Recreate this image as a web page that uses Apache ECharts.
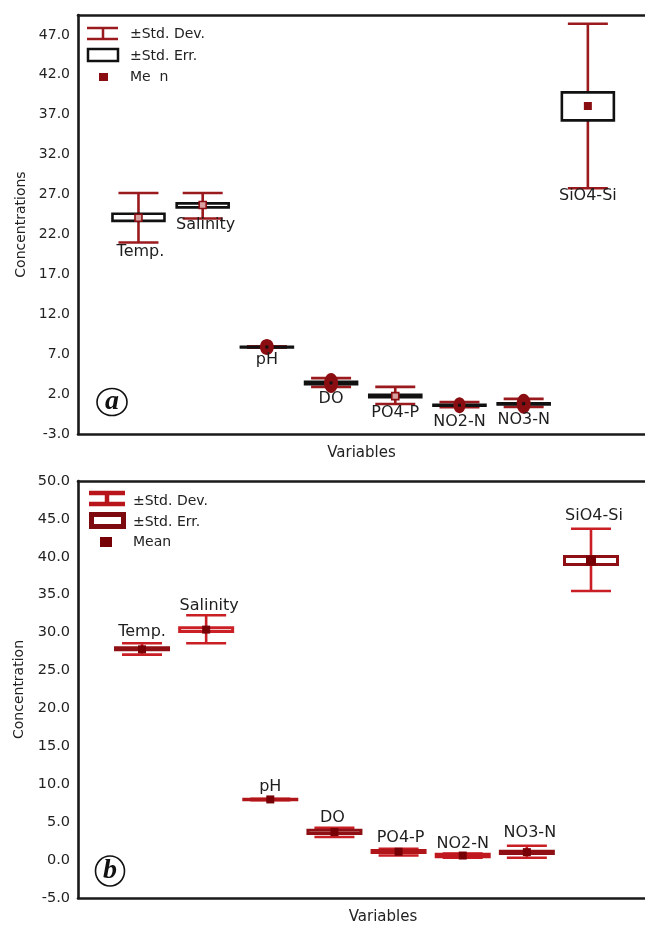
<!DOCTYPE html>
<html>
<head>
<meta charset="utf-8">
<script src="https://cdn.jsdelivr.net/npm/echarts@6/dist/echarts.min.js"></script>
<style>
html,body{margin:0;padding:0;background:#fff;overflow:hidden;}
#chart{width:645px;height:927px;}
</style>
</head>
<body>
<div id="chart"></div>
<script>
// ---- data ----
const categories = ['Temp.', 'Salinity', 'pH', 'DO', 'PO4-P', 'NO2-N', 'NO3-N', 'SiO4-Si'];

// panel (a)
const meanA   = [24.1, 25.7, 7.9, 3.4, 1.75, 0.6, 0.8, 38.1];
const sdHighA = [27.2, 27.2, 8.0, 4.0, 2.9, 1.0, 1.4, 48.4];
const sdLowA  = [21.0, 24.0, 7.8, 2.9, 0.75, 0.35, 0.4, 27.8];
const seHighA = [24.6, 25.9, 7.92, 3.55, 1.9, 0.65, 0.85, 39.8];
const seLowA  = [23.7, 25.4, 7.88, 3.25, 1.6, 0.55, 0.7, 36.3];

// panel (b)
const meanB   = [27.8, 30.4, 8.0, 3.7, 1.1, 0.6, 1.05, 39.5];
const sdHighB = [28.6, 32.3, 8.1, 4.25, 1.5, 0.85, 1.9, 43.7];
const sdLowB  = [27.1, 28.6, 7.9, 3.05, 0.6, 0.3, 0.3, 35.5];
const seHighB = [28.0, 30.65, 8.03, 3.93, 1.28, 0.78, 1.15, 40.05];
const seLowB  = [27.75, 30.15, 7.97, 3.52, 1.0, 0.45, 0.88, 39.0];

// axis ticks
const yTicksA = { min: -3, max: 49.5, step: 5 };
const yTicksB = { min: -5, max: 50, step: 5 };

// ---- build ----
function rows(mean, lo, hi, seLo, seHi) {
  return categories.map((c, i) => [i + 1, mean[i], lo[i], hi[i], seLo[i], seHi[i]]);
}

const FONT = '"DejaVu Sans", "Liberation Sans", Arial, sans-serif';

const styleA = {
  whisker: '#9a1a1e', whiskerWidth: 2.6, capW: 40, boxW: 52,
  boxColors: ['#111','#111','#111','#111','#111','#111','#111','#111'], boxWidth: 2.6,
  meanKinds: ['hollow','hollow','dot','dot','hollow','dot','dot','filled'],
  meanColor: '#8a0d12',
  blobs: [null, null, [7, 8], [7, 10], null, [6, 8], [7, 10], null],
  labelBelow: true,
  labelDy: [9, 6, 12, 11.5, 9, 15, 12.5, 8],
  labelDx: [2, 3, 0, 0, 0, 0, 0, 0]
};
const styleB = {
  whisker: '#c81e24', whiskerWidth: 2.6, capW: 40, boxW: 53,
  boxColors: ['#8e1015','#cc2027','#b0151a','#8e1015','#b0151a','#c0181e','#8e1015','#8e1015'], boxWidth: 3,
  meanKinds: ['filled','filled','filled','filled','filled','filled','filled','filledBig'],
  meanColor: '#760006',
  blobs: [null, null, null, null, null, null, null, null],
  labelBelow: false,
  labelDy: [11, 9.5, 12, 10, 11, 10, 12.5, 12.5],
  labelDx: [0, 3, 0, -2, 2, 0, 3, 3]
};

function makeRender(cfg) {
  return function (params, api) {
    const i = params.dataIndex;
    const x = api.value(0);
    const pM = api.coord([x, api.value(1)]);
    const pLo = api.coord([x, api.value(2)]);
    const pHi = api.coord([x, api.value(3)]);
    const pSeLo = api.coord([x, api.value(4)]);
    const pSeHi = api.coord([x, api.value(5)]);
    const cx = pM[0];
    const ch = [];
    const ws = { stroke: cfg.whisker, lineWidth: cfg.whiskerWidth };
    ch.push({ type: 'line', shape: { x1: cx, y1: pHi[1], x2: cx, y2: pLo[1] }, style: ws });
    ch.push({ type: 'line', shape: { x1: cx - cfg.capW / 2, y1: pHi[1], x2: cx + cfg.capW / 2, y2: pHi[1] }, style: ws });
    ch.push({ type: 'line', shape: { x1: cx - cfg.capW / 2, y1: pLo[1], x2: cx + cfg.capW / 2, y2: pLo[1] }, style: ws });
    ch.push({ type: 'rect', shape: { x: cx - cfg.boxW / 2, y: pSeHi[1], width: cfg.boxW, height: Math.max(0.5, pSeLo[1] - pSeHi[1]) },
      style: { fill: '#fff', stroke: cfg.boxColors[i], lineWidth: cfg.boxWidth } });
    const blob = cfg.blobs[i];
    if (blob) {
      ch.push({ type: 'ellipse', shape: { cx: cx, cy: pM[1], rx: blob[0], ry: blob[1] }, style: { fill: '#8a0d12' } });
    }
    const k = cfg.meanKinds[i];
    if (k === 'hollow') {
      ch.push({ type: 'rect', shape: { x: cx - 3.5, y: pM[1] - 3.5, width: 7, height: 7 }, style: { fill: '#d9a0a0', stroke: cfg.meanColor, lineWidth: 1.6 } });
    } else if (k === 'dot') {
      ch.push({ type: 'rect', shape: { x: cx - 1.5, y: pM[1] - 1.5, width: 3, height: 3 }, style: { fill: '#111' } });
    } else if (k === 'filled') {
      ch.push({ type: 'rect', shape: { x: cx - 4, y: pM[1] - 4, width: 8, height: 8 }, style: { fill: cfg.meanColor } });
    } else if (k === 'filledBig') {
      ch.push({ type: 'rect', shape: { x: cx - 5, y: pM[1] - 5, width: 10, height: 10 }, style: { fill: cfg.meanColor } });
    }
    const ly = cfg.labelBelow ? pLo[1] + cfg.labelDy[i] : pHi[1] - cfg.labelDy[i];
    ch.push({ type: 'text', style: { text: categories[i], x: cx + cfg.labelDx[i], y: ly, align: 'center', verticalAlign: 'middle',
      fontSize: 16, fontFamily: FONT, fill: '#1e1e1e' } });
    return { type: 'group', children: ch };
  };
}

function legend(isB) {
  const g = [];
  const txt = (t, x, y) => ({ type: 'text', style: { text: t, x: x, y: y, fontSize: 14, fontFamily: FONT, fill: '#222', verticalAlign: 'middle' } });
  if (!isB) {
    const s = { stroke: '#9a1a1e', lineWidth: 2.5 };
    g.push({ type: 'line', shape: { x1: 87, y1: 28, x2: 118, y2: 28 }, style: s });
    g.push({ type: 'line', shape: { x1: 87, y1: 39, x2: 118, y2: 39 }, style: s });
    g.push({ type: 'line', shape: { x1: 103, y1: 28, x2: 103, y2: 39 }, style: s });
    g.push(txt('±Std. Dev.', 130, 34));
    g.push({ type: 'rect', shape: { x: 88, y: 49, width: 30, height: 12 }, style: { fill: '#fff', stroke: '#111', lineWidth: 2.5 } });
    g.push(txt('±Std. Err.', 130, 56));
    g.push({ type: 'rect', shape: { x: 99, y: 73, width: 9, height: 8 }, style: { fill: '#8a0d12' } });
    g.push(txt('Me  n', 130, 77));
  } else {
    const s = { stroke: '#b8151b', lineWidth: 4.5 };
    g.push({ type: 'line', shape: { x1: 89, y1: 493, x2: 125, y2: 493 }, style: s });
    g.push({ type: 'line', shape: { x1: 89, y1: 504, x2: 125, y2: 504 }, style: s });
    g.push({ type: 'line', shape: { x1: 107, y1: 493, x2: 107, y2: 504 }, style: s });
    g.push(txt('±Std. Dev.', 133, 501));
    g.push({ type: 'rect', shape: { x: 91.5, y: 514.5, width: 32, height: 12 }, style: { fill: '#fff', stroke: '#7d0a0e', lineWidth: 5 } });
    g.push(txt('±Std. Err.', 133, 522));
    g.push({ type: 'rect', shape: { x: 100, y: 537, width: 12, height: 10 }, style: { fill: '#760006' } });
    g.push(txt('Mean', 133, 542));
  }
  return g;
}

function badge(letter, cx, cy, rx, ry) {
  return [
    { type: 'ellipse', shape: { cx: cx, cy: cy, rx: rx, ry: ry }, style: { fill: '#fff', stroke: '#111', lineWidth: 1.6 } },
    { type: 'text', style: { text: letter, x: cx, y: cy, align: 'center', verticalAlign: 'middle',
      font: 'italic bold 28px "Liberation Serif", "Times New Roman", serif', fill: '#111' } }
  ];
}

const AXLINE = { show: true, onZero: false, lineStyle: { color: '#1a1a1a', width: 2.6 } };

function yAxis(gi, t, name, nameGap, labelSize) {
  return {
    type: 'value', gridIndex: gi, min: t.min, max: t.max, interval: t.step,
    axisLine: AXLINE, axisTick: { show: false }, splitLine: { show: false },
    axisLabel: { formatter: v => v.toFixed(1), margin: 8, fontSize: labelSize, fontFamily: FONT, color: '#222', showMaxLabel: gi === 1 },
    name: name, nameLocation: 'middle', nameGap: nameGap, nameRotate: 90,
    nameTextStyle: { fontSize: 14, fontFamily: FONT, color: '#222' }
  };
}
function xAxis(gi, min, max, pad) {
  return {
    type: 'value', gridIndex: gi, min: min, max: max, position: 'bottom',
    axisLine: AXLINE, axisTick: { show: false }, splitLine: { show: false }, axisLabel: { show: false },
    name: 'Variables', nameLocation: 'middle', nameGap: 12,
    nameTextStyle: { fontSize: 15, fontFamily: FONT, color: '#222', padding: pad }
  };
}
function xTop(gi, min, max) {
  return {
    type: 'value', gridIndex: gi, min: min, max: max, position: 'top',
    axisLine: AXLINE, axisTick: { show: false }, splitLine: { show: false }, axisLabel: { show: false }
  };
}

const chart = echarts.init(document.getElementById('chart'), null, { renderer: 'canvas' });
chart.setOption({
  backgroundColor: '#fff',
  animation: false,
  grid: [
    { left: 78, top: 15, right: 0, height: 419 },
    { left: 78, top: 481, right: 0, height: 417 }
  ],
  xAxis: [xAxis(0, 0.058, 8.89, [0, 0, 0, 0]), xAxis(1, 0.002, 8.842, [0, 0, 0, 43]), xTop(0, 0.058, 8.89), xTop(1, 0.002, 8.842)],
  yAxis: [yAxis(0, yTicksA, 'Concentrations', 46, 14), yAxis(1, yTicksB, 'Concentration', 52, 14.5)],
  series: [
    { type: 'custom', xAxisIndex: 0, yAxisIndex: 0, data: rows(meanA, sdLowA, sdHighA, seLowA, seHighA),
      renderItem: makeRender(styleA), encode: { x: 0, y: [1, 2, 3, 4, 5] } },
    { type: 'custom', xAxisIndex: 1, yAxisIndex: 1, data: rows(meanB, sdLowB, sdHighB, seLowB, seHighB),
      renderItem: makeRender(styleB), encode: { x: 0, y: [1, 2, 3, 4, 5] } }
  ],
  graphic: [].concat(legend(false), legend(true), badge('a', 112, 402, 15, 13.5), badge('b', 110, 871, 14.5, 15))
});
</script>
</body>
</html>
